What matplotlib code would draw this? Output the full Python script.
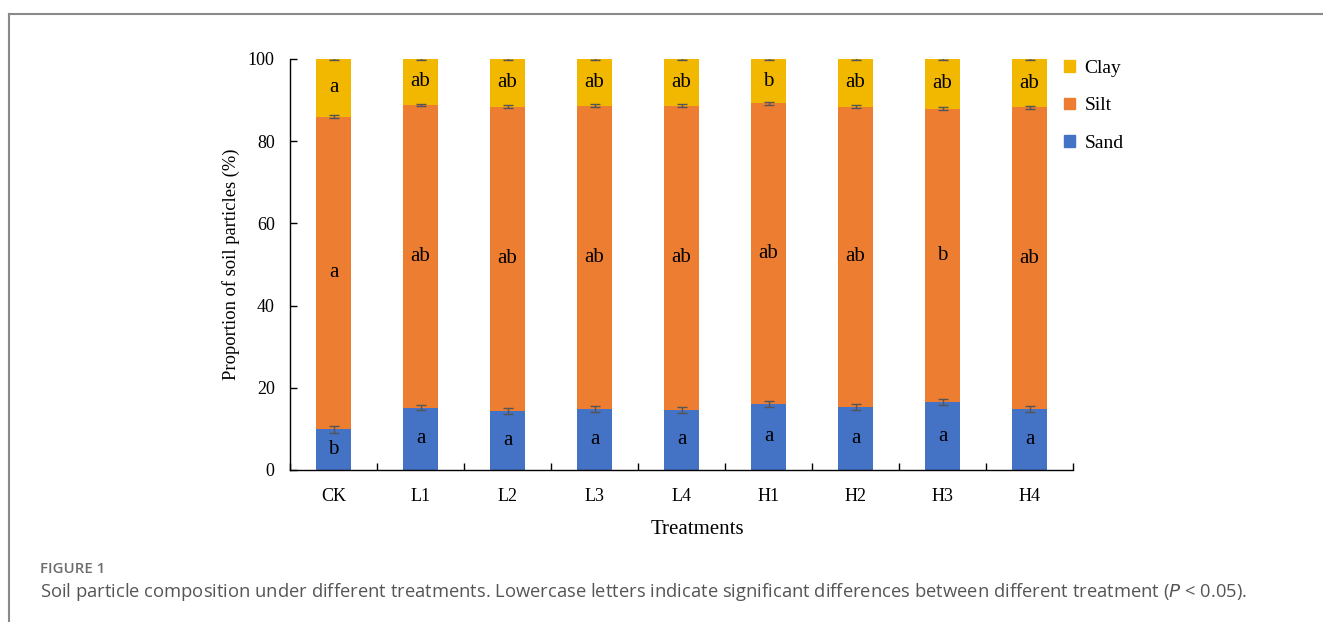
import numpy as np
import matplotlib.pyplot as plt
from matplotlib.lines import Line2D
from matplotlib.patches import Patch

treatments = ['CK', 'L1', 'L2', 'L3', 'L4', 'H1', 'H2', 'H3', 'H4']
sand = [9.9, 15.2, 14.4, 14.8, 14.6, 16.1, 15.3, 16.5, 14.8]
silt = [76.1, 73.6, 74.0, 73.8, 74.0, 73.1, 73.1, 71.4, 73.4]
clay = [14.0, 11.2, 11.6, 11.4, 11.4, 10.8, 11.6, 12.1, 11.8]
sand_err = [0.8, 0.7, 0.7, 0.7, 0.7, 0.7, 0.7, 0.7, 0.7]
silt_err = [0.4, 0.35, 0.4, 0.35, 0.35, 0.35, 0.4, 0.35, 0.4]
clay_err = [0.15, 0.15, 0.15, 0.15, 0.15, 0.15, 0.15, 0.15, 0.15]
sand_sig = ['b', 'a', 'a', 'a', 'a', 'a', 'a', 'a', 'a']
silt_sig = ['a', 'ab', 'ab', 'ab', 'ab', 'ab', 'ab', 'b', 'ab']
clay_sig = ['a', 'ab', 'ab', 'ab', 'ab', 'b', 'ab', 'ab', 'ab']

c_sand = '#4472C4'
c_silt = '#ED7D31'
c_clay = '#F2B800'
serif = 'Liberation Serif'

fig = plt.figure(figsize=(13.23, 6.22), dpi=100)
ax = fig.add_axes([0.2192, 0.2444, 0.5919, 0.6608])

x = np.arange(len(treatments))
sand = np.array(sand)
silt = np.array(silt)
clay = np.array(clay)
w = 0.4
ekw = dict(ecolor='#555555', elinewidth=1, capsize=3.5, capthick=1)

ax.bar(x, sand, w, color=c_sand, zorder=2)
ax.bar(x, silt, w, bottom=sand, color=c_silt, zorder=2)
ax.bar(x, clay, w, bottom=sand + silt, color=c_clay, zorder=2)
ax.errorbar(x, sand, yerr=sand_err, fmt='none', zorder=3, **ekw)
ax.errorbar(x, sand + silt, yerr=silt_err, fmt='none', zorder=3, **ekw)
ax.errorbar(x, sand + silt + clay, yerr=clay_err, fmt='none', zorder=3, **ekw)

# significance letters in the middle of each segment
for i in range(len(x)):
    ax.text(x[i], sand[i] / 2, sand_sig[i], ha='center', va='center',
            fontsize=15, family=serif, zorder=4)
    ax.text(x[i], sand[i] + silt[i] / 2, silt_sig[i], ha='center', va='center',
            fontsize=15, family=serif, zorder=4)
    ax.text(x[i], sand[i] + silt[i] + clay[i] / 2, clay_sig[i], ha='center',
            va='center', fontsize=15, family=serif, zorder=4)

ax.set_xlim(-0.5, len(x) - 0.5)
ax.set_ylim(0, 100)
ax.set_yticks([0, 20, 40, 60, 80, 100])
ax.set_xticks(x)
ax.set_xticklabels(treatments)
ax.set_xticks(np.arange(-0.5, len(x)), minor=True)
ax.tick_params(axis='x', which='major', length=0, pad=13)
ax.tick_params(axis='x', which='minor', direction='in', length=5, width=1)
ax.tick_params(axis='y', direction='in', length=5, width=1, pad=11)
for lab in ax.get_xticklabels() + ax.get_yticklabels():
    lab.set_family(serif)
    lab.set_fontsize(13)
for s in ['top', 'right']:
    ax.spines[s].set_visible(False)
for s in ['left', 'bottom']:
    ax.spines[s].set_linewidth(1)
    ax.spines[s].set_color('black')

ax.set_xlabel('Treatments', family=serif, fontsize=15)
ax.xaxis.set_label_coords((697 - 290) / 783, -(530 - 470) / 411, transform=ax.transAxes)
ax.xaxis.label.set_va('center')
ax.set_ylabel('Proportion of soil particles (%)', family=serif, fontsize=13.3)
ax.yaxis.set_label_coords(-(290 - 231) / 783, 0.5)
ax.yaxis.label.set_va('center')

handles = [Patch(color=c_clay), Patch(color=c_silt), Patch(color=c_sand)]
leg = ax.legend(handles, ['Clay', 'Silt', 'Sand'], loc='upper left',
                bbox_to_anchor=(0.966, 1.04), frameon=False,
                prop={'family': serif, 'size': 14}, handlelength=0.55,
                handleheight=0.55, handletextpad=0.5, labelspacing=1.05)

# outer frame lines
fig.add_artist(Line2D([9 / 1323, 9 / 1323], [0, 1 - 14 / 622], color='#8a8a8a', lw=1.5))
fig.add_artist(Line2D([9 / 1323, 1], [1 - 14 / 622, 1 - 14 / 622], color='#8a8a8a', lw=1.5))

fig.text(40 / 1323, 1 - 569 / 622, 'FIGURE 1', family='Open Sans', fontsize=10.8,
         color='#6d6d6d', weight='semibold', va='center')
fig.text(40 / 1323, 1 - 592 / 622,
         'Soil particle composition under different treatments. Lowercase letters '
         'indicate significant differences between different treatment ($\\mathit{P}$ < 0.05).',
         family='Open Sans', fontsize=13.2, color='#555555', va='center')

fig.savefig('out.png', dpi=100)
